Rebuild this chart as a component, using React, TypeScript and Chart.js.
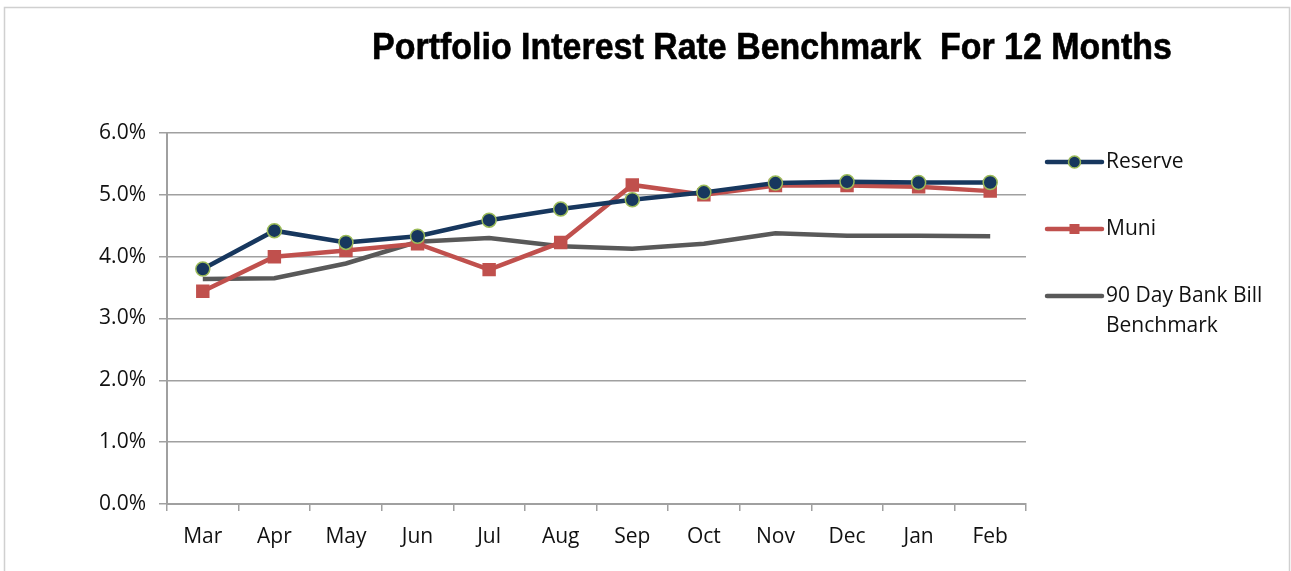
import React, { useEffect, useRef } from "react";
import { Chart, registerables } from "chart.js";

Chart.register(...registerables);

const months = ["Mar", "Apr", "May", "Jun", "Jul", "Aug", "Sep", "Oct", "Nov", "Dec", "Jan", "Feb"];
const reserve = [3.80, 4.42, 4.23, 4.33, 4.59, 4.77, 4.92, 5.04, 5.19, 5.21, 5.20, 5.20];
const muni = [3.44, 4.00, 4.10, 4.21, 3.79, 4.23, 5.16, 5.00, 5.15, 5.15, 5.13, 5.06];
const bankBill = [3.64, 3.65, 3.89, 4.24, 4.30, 4.17, 4.13, 4.21, 4.38, 4.34, 4.34, 4.33];
const yTicks = [0, 1, 2, 3, 4, 5, 6];
const titleText = "Portfolio Interest Rate Benchmark  For 12 Months";
const legendLabels = [["Reserve"], ["Muni"], ["90 Day Bank Bill", "Benchmark"]];

const NAVY = "#17375E";
const GREEN = "#9BBB59";
const RED = "#C0504D";
const GRAY = "#595959";
const FONT = "'Open Sans', sans-serif";

const decorPlugin = {
  id: "decor",
  afterDraw(chart: any) {
    const ctx = chart.ctx as CanvasRenderingContext2D;
    const w = chart.width;
    ctx.save();
    // frame
    ctx.strokeStyle = "#D0D0D0";
    ctx.lineWidth = 1.5;
    ctx.strokeRect(4.5, 7.5, w - 6, chart.height + 10);
    // title
    ctx.fillStyle = "#000";
    ctx.font = "bold 35px 'Liberation Sans', Arial, sans-serif";
    ctx.textAlign = "center";
    ctx.textBaseline = "middle";
    ctx.save();
    ctx.translate(w * 0.598, 49);
    ctx.scale(0.97, 1.04);
    ctx.fillText(titleText, 0, 0);
    ctx.lineWidth = 0.6;
    ctx.strokeStyle = "#000";
    ctx.strokeText(titleText, 0, 0);
    ctx.restore();
    // legend
    const area = chart.chartArea;
    const lx0 = area.right + 21;
    const lx1 = area.right + 76;
    const rows = [162, 229, 296];
    ctx.font = `21px ${FONT}`;
    ctx.textAlign = "left";
    chart.data.datasets.forEach((ds: any, i: number) => {
      const y = rows[i];
      ctx.strokeStyle = ds.borderColor;
      ctx.lineWidth = 4.5;
      ctx.lineCap = "round";
      ctx.beginPath();
      ctx.moveTo(lx0, y);
      ctx.lineTo(lx1, y);
      ctx.stroke();
      const cx = (lx0 + lx1) / 2;
      if (ds.pointStyle === "circle" && ds.pointRadius > 0) {
        ctx.beginPath();
        ctx.arc(cx, y, 6, 0, Math.PI * 2);
        ctx.fillStyle = ds.pointBackgroundColor;
        ctx.fill();
        ctx.lineWidth = 1.5;
        ctx.strokeStyle = ds.pointBorderColor;
        ctx.stroke();
      } else if (ds.pointStyle === "rect" && ds.pointRadius > 0) {
        ctx.fillStyle = ds.pointBackgroundColor;
        ctx.fillRect(cx - 5, y - 5, 10, 10);
      }
      ctx.fillStyle = "#111";
      const lines = legendLabels[i];
      lines.forEach((t, j) => ctx.fillText(t, lx1 + 4, y + j * 30));
    });
    ctx.restore();
  },
};

export default function App() {
  const ref = useRef<HTMLCanvasElement | null>(null);
  useEffect(() => {
    document.body.style.margin = "0";
    const canvas = ref.current!;
    const chart = new Chart(canvas, {
      type: "line",
      data: {
        labels: months,
        datasets: [
          {
            label: "Reserve",
            data: reserve,
            borderColor: NAVY,
            borderWidth: 4.5,
            pointStyle: "circle",
            pointRadius: 7,
            pointBackgroundColor: NAVY,
            pointBorderColor: GREEN,
            pointBorderWidth: 1.5,
            tension: 0,
          },
          {
            label: "Muni",
            data: muni,
            borderColor: RED,
            borderWidth: 4.5,
            pointStyle: "rect",
            pointRadius: 9.5,
            pointBackgroundColor: RED,
            pointBorderColor: RED,
            pointBorderWidth: 0,
            tension: 0,
          },
          {
            label: "90 Day Bank Bill Benchmark",
            data: bankBill,
            borderColor: GRAY,
            borderWidth: 4.5,
            pointStyle: "circle",
            pointRadius: 0,
            tension: 0,
          },
        ] as any,
      },
      options: {
        animation: false,
        responsive: false,
        layout: { padding: { top: 133, left: 0, right: 265, bottom: 0 } },
        plugins: {
          legend: { display: false },
          title: { display: false },
          tooltip: { enabled: false },
        },
        scales: {
          x: {
            offset: true,
            grid: {
              offset: true,
              drawOnChartArea: false,
              drawTicks: true,
              tickLength: 7,
              color: "#A0A0A0",
              lineWidth: 1.5,
            },
            border: { color: "#A0A0A0", width: 2 },
            ticks: { color: "#111", font: { family: FONT, size: 21 }, padding: 13 },
            afterFit: (s: any) => { s.height = 571 - 504; },
          },
          y: {
            min: 0,
            max: 6,
            afterBuildTicks: (s: any) => { s.ticks = yTicks.map((v) => ({ value: v })); },
            grid: { color: "#A0A0A0", lineWidth: 1.5, tickLength: 8 },
            border: { color: "#A0A0A0", width: 2 },
            ticks: {
              color: "#111",
              font: { family: FONT, size: 21 },
              padding: 13,
              callback: (v: any) => Number(v).toFixed(1) + "%",
            },
            afterFit: (s: any) => { s.width = 167; },
          },
        },
      },
      plugins: [decorPlugin],
    });
    return () => chart.destroy();
  }, []);
  return <canvas ref={ref} width={1291} height={571} style={{ display: "block" }} />;
}
